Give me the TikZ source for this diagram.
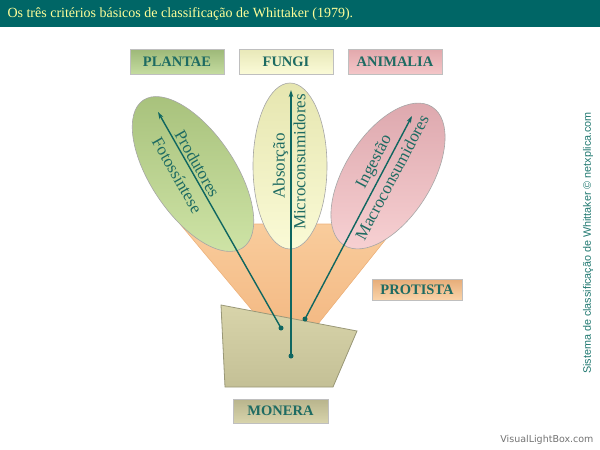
\documentclass[tikz,border=0pt]{standalone}
\usepackage{fontspec}
\setmainfont{Liberation Serif}
\newfontfamily\sidefont{Liberation Sans}
\newfontfamily\markfont{DejaVu Sans}
\usetikzlibrary{shapes.geometric,arrows.meta}
\definecolor{barteal}{HTML}{006666}
\definecolor{titleyellow}{HTML}{FFFF99}
\definecolor{textteal}{HTML}{1E6B62}
\definecolor{arrowteal}{HTML}{0F6660}
\definecolor{sideteal}{HTML}{207870}
\definecolor{plantaetop}{HTML}{9DB878}
\definecolor{plantaebot}{HTML}{C5DCA0}
\definecolor{fungitop}{HTML}{E8E8B8}
\definecolor{fungibot}{HTML}{FBFBD8}
\definecolor{animaliatop}{HTML}{E2A8AC}
\definecolor{animaliabot}{HTML}{F4C6C8}
\definecolor{protistatop}{HTML}{E6AC78}
\definecolor{protistabot}{HTML}{FAD4AA}
\definecolor{moneratop}{HTML}{B8B48C}
\definecolor{monerabot}{HTML}{D8D4AC}
\definecolor{funnelline}{HTML}{EDB27C}
\definecolor{funneltop}{HTML}{F9CC9C}
\definecolor{funnelbot}{HTML}{F3B882}
\definecolor{baseline}{HTML}{9A9878}
\definecolor{basetop}{HTML}{D8D4AA}
\definecolor{basebot}{HTML}{C4C096}
\definecolor{greenlight}{HTML}{D0E5A8}
\definecolor{greendark}{HTML}{A6C07A}
\definecolor{yellowlight}{HTML}{FAFAD6}
\definecolor{yellowdark}{HTML}{E6E6B0}
\definecolor{pinklight}{HTML}{F6CFD1}
\definecolor{pinkdark}{HTML}{DCA6AC}
\begin{document}
\begin{tikzpicture}[x=1pt, y=-1pt,
    box/.style={rectangle, draw=black!25, line width=0.4pt, minimum width=94pt, minimum height=25pt,
        font=\fontsize{14.5}{14.5}\selectfont\bfseries, text=textteal, inner sep=0pt},
    leaf/.style={ellipse, draw=black!35, line width=0.6pt, inner sep=0pt},
    leaftext/.style={font=\fontsize{17}{17}\selectfont, text=textteal, inner sep=2.5pt},
    dot/.style={circle, fill=arrowteal, inner sep=0pt, minimum size=5pt},
    arrow/.style={-{Stealth[length=7pt,width=4.5pt]}, draw=arrowteal, line width=1.4pt}
]
    \useasboundingbox (0,0) rectangle (600,450);

    % Title bar
    \fill[barteal] (0,0) rectangle (600,27);
    \node[anchor=west, text=titleyellow, font=\fontsize{14}{14}\selectfont] (title) at (4,14)
        {Os três critérios básicos de classificação de Whittaker (1979).};

    % Kingdom labels
    \node[box, top color=plantaetop, bottom color=plantaebot] (plantae) at (177,61.5) {PLANTAE};
    \node[box, top color=fungitop, bottom color=fungibot] (fungi) at (286,61.5) {FUNGI};
    \node[box, top color=animaliatop, bottom color=animaliabot] (animalia) at (395,61.5) {ANIMALIA};

    % Protista funnel
    \draw[draw=funnelline, top color=funneltop, bottom color=funnelbot, line width=0.6pt]
        (180,224) -- (398,224) -- (310,334) -- (272,334) -- cycle;
    \node[box, minimum width=90pt, minimum height=21pt, top color=protistatop, bottom color=protistabot] (protista) at (417,289.5) {PROTISTA};

    % Leaves
    \node[leaf, rotate=124, minimum width=178pt, minimum height=84pt, top color=greendark, bottom color=greenlight] (plantaeleaf) at (193,174) {};
    \node[leaf, rotate=90, minimum width=166pt, minimum height=74pt, top color=yellowdark, bottom color=yellowlight] (fungileaf) at (290,166) {};
    \node[leaf, rotate=57.5, minimum width=164pt, minimum height=86pt, top color=pinkdark, bottom color=pinklight] (animalialeaf) at (388,176) {};

    % Monera base
    \draw[draw=baseline, top color=basetop, bottom color=basebot, line width=0.8pt]
        (221,305) -- (357,331) -- (333,387) -- (225,387) -- cycle;
    \node[box, minimum width=95pt, minimum height=24pt, top color=moneratop, bottom color=monerabot] (monera) at (280.5,411) {MONERA};

    % Arrows
    \node[dot] (plantaedot) at (281,328) {};
    \node[dot] (fungidot) at (291,356) {};
    \node[dot] (animaliadot) at (305,319) {};
    \coordinate (plantaetip) at (158,112);
    \coordinate (fungitip) at (291,90);
    \coordinate (animaliatip) at (412,116);
    \draw[arrow] (plantaedot.center) -- (plantaetip);
    \draw[arrow] (fungidot.center) -- (fungitip);
    \draw[arrow] (animaliadot.center) -- (animaliatip);

    % Leaf texts
    \node[leaftext, rotate=-60.3, anchor=south] (produtores) at (190,168) {Produtores};
    \node[leaftext, rotate=-60.3, anchor=north] (fotossintese) at (184.8,171) {Fotossíntese};
    \node[leaftext, rotate=90, anchor=south] (absorcao) at (291,166) {Absorção};
    \node[leaftext, rotate=90, anchor=north] (micro) at (291,162) {Microconsumidores};
    \node[leaftext, rotate=62.1, anchor=south] (ingestao) at (383.8,166.8) {Ingestão};
    \node[leaftext, rotate=62.1, anchor=north] (macro) at (384.2,173.2) {Macroconsumidores};

    % Side notes
    \node[rotate=90, text=sideteal, font=\sidefont\fontsize{10.8}{10.8}\selectfont] (credit) at (588,243)
        {Sistema de classificação de Whittaker © netxplica.com};
    \node[anchor=east, text=black!55, font=\markfont\fontsize{9.5}{9.5}\selectfont] (mark) at (597,440) {VisualLightBox.com};
\end{tikzpicture}
\end{document}
